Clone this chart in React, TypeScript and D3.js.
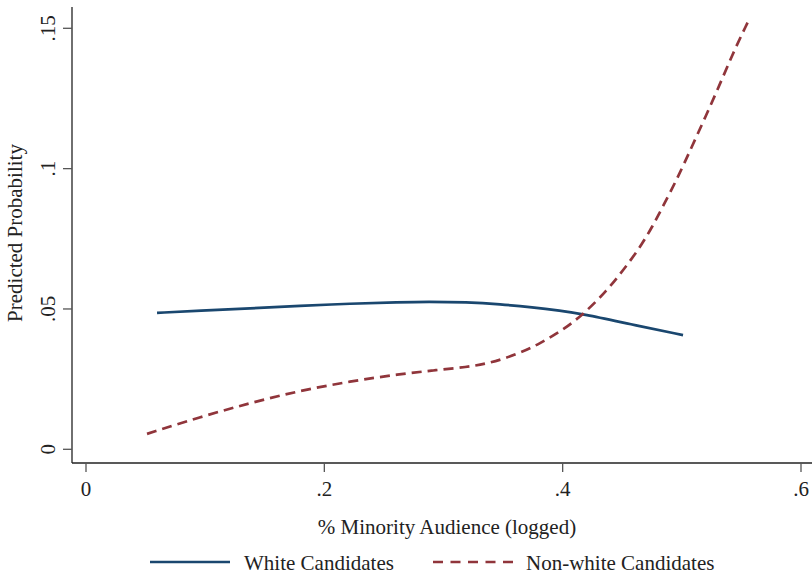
import React from "react";
import * as d3 from "d3";

const whiteX = [0.0596, 0.0957, 0.1376, 0.1796, 0.2215, 0.2635, 0.2861, 0.3197, 0.3474, 0.3751, 0.3977, 0.4171, 0.4565, 0.501];
const whiteY = [0.0486, 0.0494, 0.0502, 0.0511, 0.0519, 0.0524, 0.0526, 0.0524, 0.0517, 0.0506, 0.0494, 0.0482, 0.0446, 0.0407];

const nonWhiteX = [0.0512, 0.0957, 0.1376, 0.1796, 0.2215, 0.2635, 0.2912, 0.3197, 0.339, 0.3617, 0.381, 0.4003, 0.4187, 0.4372, 0.4506, 0.4649, 0.4758, 0.4842, 0.4959, 0.5068, 0.5295, 0.5429, 0.5555];
const nonWhiteY = [0.0055, 0.0115, 0.0165, 0.0209, 0.0242, 0.0268, 0.0281, 0.0293, 0.0307, 0.0338, 0.0377, 0.0425, 0.0486, 0.0566, 0.0637, 0.0719, 0.0797, 0.0866, 0.0962, 0.1063, 0.1275, 0.1412, 0.1523];

const xTicks = [0, 0.2, 0.4, 0.6];
const xTickLabels = ["0", ".2", ".4", ".6"];
const yTicks = [0, 0.05, 0.1, 0.15];
const yTickLabels = ["0", ".05", ".1", ".15"];

const seriesNames = ["White Candidates", "Non-white Candidates"];
const BLUE = "#1a476f";
const RED = "#90353b";
const FONT = "'Liberation Serif', 'Times New Roman', serif";

export default function App() {
  const W = 812, H = 576;
  const x = d3.scaleLinear().domain([0, 0.6]).range([86, 801]);
  const y = d3.scaleLinear().domain([0, 0.15]).range([449.3, 28.3]);
  const line = d3
    .line<[number, number]>()
    .x((d) => x(d[0]))
    .y((d) => y(d[1]))
    .curve(d3.curveBasis);
  const white: [number, number][] = whiteX.map((v, i) => [v, whiteY[i]]);
  const nonWhite: [number, number][] = nonWhiteX.map((v, i) => [v, nonWhiteY[i]]);
  const axisColor = "#222";

  return (
    <svg
      width={W}
      height={H}
      style={{ position: "absolute", left: 0, top: 0, background: "#fff" }}
      fontFamily={FONT}
    >
      <rect x={0} y={0} width={W} height={H} fill="#fff" />
      <line x1={72} x2={72} y1={7} y2={463} stroke={axisColor} strokeWidth={1.3} />
      <line x1={72} x2={812} y1={463} y2={463} stroke={axisColor} strokeWidth={1.3} />
      {yTicks.map((t, i) => (
        <g key={"y" + i}>
          <line x1={63} x2={72} y1={y(t)} y2={y(t)} stroke="#555" strokeWidth={1.3} />
          <text
            transform={`translate(55,${y(t)}) rotate(-90)`}
            textAnchor="middle"
            fontSize={21}
            fill="#222"
          >
            {yTickLabels[i]}
          </text>
        </g>
      ))}
      {xTicks.map((t, i) => (
        <g key={"x" + i}>
          <line x1={x(t)} x2={x(t)} y1={463} y2={472} stroke="#555" strokeWidth={1.3} />
          <text x={x(t)} y={496} textAnchor="middle" fontSize={21} fill="#222">
            {xTickLabels[i]}
          </text>
        </g>
      ))}
      <text
        transform={`translate(22,233) rotate(-90)`}
        textAnchor="middle"
        fontSize={21}
        fill="#222"
      >
        Predicted Probability
      </text>
      <text x={447} y={534} textAnchor="middle" fontSize={21} fill="#222">
        % Minority Audience (logged)
      </text>
      <path d={line(white) || ""} fill="none" stroke={BLUE} strokeWidth={2.7} />
      <path
        d={line(nonWhite) || ""}
        fill="none"
        stroke={RED}
        strokeWidth={2.7}
        strokeDasharray="10,6"
      />
      <line x1={150} x2={230} y1={562} y2={562} stroke={BLUE} strokeWidth={2.7} />
      <text x={244} y={570} fontSize={21} fill="#222">
        {seriesNames[0]}
      </text>
      <line
        x1={433}
        x2={513}
        y1={562}
        y2={562}
        stroke={RED}
        strokeWidth={2.7}
        strokeDasharray="10,7.5"
      />
      <text x={526} y={570} fontSize={21} fill="#222">
        {seriesNames[1]}
      </text>
    </svg>
  );
}
